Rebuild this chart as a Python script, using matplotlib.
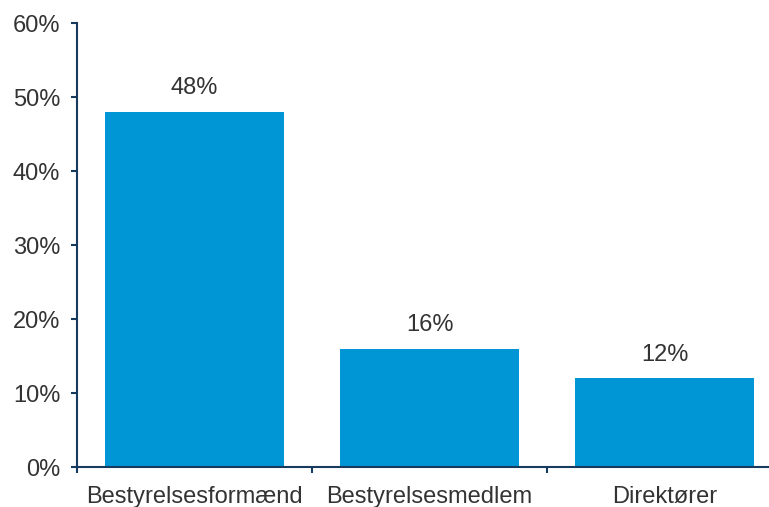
import matplotlib
matplotlib.use("Agg")
import matplotlib.pyplot as plt
from matplotlib.ticker import FixedLocator, FuncFormatter

categories = ["Bestyrelsesformænd", "Bestyrelsesmedlem", "Direktører"]
shares = [48, 16, 12]
y_ticks = [0, 10, 20, 30, 40, 50, 60]

bar_color = "#0096D5"
axis_color = "#173B5E"
text_color = "#333333"

plt.rcParams["font.family"] = ["Liberation Sans", "DejaVu Sans"]

fig = plt.figure(figsize=(7.69, 5.07), dpi=100)
ax = fig.add_axes([77 / 769, 40 / 507, 705 / 769, 444 / 507])

x = list(range(len(categories)))
ax.bar(x, shares, width=0.76, color=bar_color, zorder=2)

for xi, v in zip(x, shares):
    ax.annotate(f"{v}%", (xi, v), xytext=(0, 9), textcoords="offset points",
                ha="center", va="bottom", fontsize=17, color=text_color)

ax.set_xlim(-0.5, len(categories) - 0.5)
ax.set_ylim(0, 60)

ax.yaxis.set_major_locator(FixedLocator(y_ticks))
ax.yaxis.set_major_formatter(FuncFormatter(lambda v, _: f"{v:.0f}%"))

# Category boundaries get tick marks, names sit on minor ticks without marks
ax.xaxis.set_major_locator(FixedLocator([i - 0.5 for i in range(len(categories) + 1)]))
ax.xaxis.set_major_formatter(FuncFormatter(lambda v, _: ""))
ax.xaxis.set_minor_locator(FixedLocator(x))
ax.set_xticklabels(categories, minor=True)

ax.tick_params(axis="y", direction="out", length=4, width=1.5, color=axis_color,
               labelsize=17, labelcolor=text_color, pad=8)
ax.tick_params(axis="x", which="major", direction="out", length=4, width=1.5,
               color=axis_color)
ax.tick_params(axis="x", which="minor", length=0, labelsize=17,
               labelcolor=text_color, pad=14)

for side in ("top", "right"):
    ax.spines[side].set_visible(False)
for side in ("left", "bottom"):
    ax.spines[side].set_color(axis_color)
    ax.spines[side].set_linewidth(1.5)

fig.savefig("out.png", dpi=100)
